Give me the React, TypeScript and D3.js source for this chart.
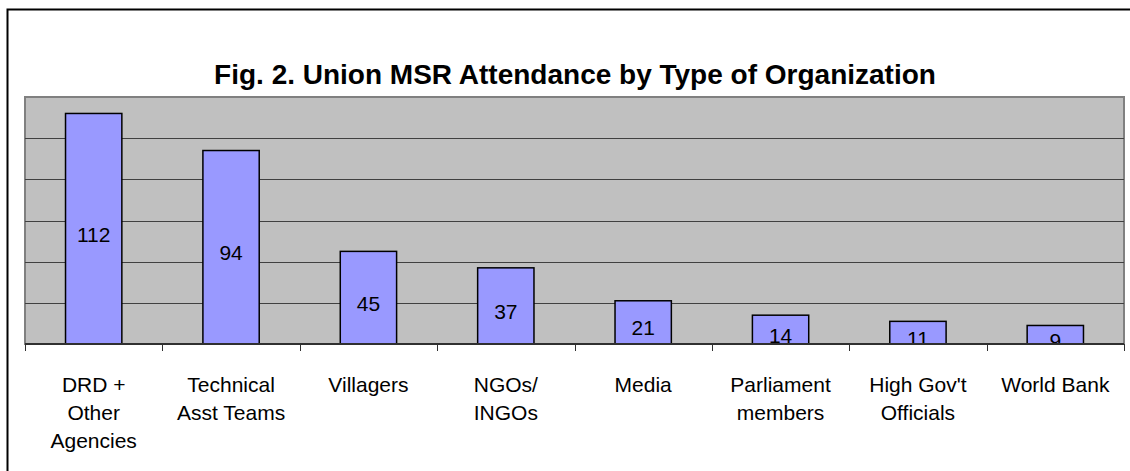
import React from "react"
import * as d3 from "d3"

// ── Data ──────────────────────────────────────────────────────────────────────

const categories = [
  "DRD + Other Agencies",
  "Technical Asst Teams",
  "Villagers",
  "NGOs/ INGOs",
  "Media",
  "Parliament members",
  "High Gov't Officials",
  "World Bank",
]
const labelLines = [
  ["DRD +", "Other", "Agencies"],
  ["Technical", "Asst Teams"],
  ["Villagers"],
  ["NGOs/", "INGOs"],
  ["Media"],
  ["Parliament", "members"],
  ["High Gov't", "Officials"],
  ["World Bank"],
]
const attendance = [112, 94, 45, 37, 21, 14, 11, 9]
const yTicks = [0, 20, 40, 60, 80, 100, 120]

const W = 1130
const H = 471
const FONT = "'Liberation Sans', Arial, sans-serif"

export default function App() {
  const plot = { left: 25, right: 1124, top: 97, bottom: 344 }

  const x = d3
    .scaleBand()
    .domain(categories)
    .range([plot.left, plot.right])
    .paddingInner(0)
    .paddingOuter(0)
  const y = d3.scaleLinear().domain([0, 120]).range([plot.bottom, plot.top])

  const bw = x.bandwidth() * 0.41

  return (
    <svg
      width={W}
      height={H}
      style={{ position: "absolute", left: 0, top: 0, display: "block" }}
      fontFamily={FONT}
    >
      <defs>
        <clipPath id="plot-clip">
          <rect
            x={plot.left}
            y={plot.top}
            width={plot.right - plot.left}
            height={plot.bottom - plot.top}
          />
        </clipPath>
      </defs>
      <rect width={W} height={H} fill="white" />
      {/* outer frame */}
      <rect x={7.5} y={9.5} width={1130} height={470} fill="none" stroke="black" strokeWidth={2} />

      <text
        x={575}
        y={84}
        textAnchor="middle"
        fontSize={28}
        fontWeight="bold"
        fill="black"
      >
        Fig. 2. Union MSR Attendance by Type of Organization
      </text>

      {/* plot area */}
      <rect
        x={plot.left}
        y={plot.top}
        width={plot.right - plot.left}
        height={plot.bottom - plot.top}
        fill="#C0C0C0"
        stroke="#808080"
        strokeWidth={2}
      />
      {yTicks.slice(1, -1).map(t => (
        <line
          key={t}
          x1={plot.left}
          x2={plot.right}
          y1={Math.round(y(t)) + 0.5}
          y2={Math.round(y(t)) + 0.5}
          stroke="#404040"
          strokeWidth={1}
        />
      ))}

      {/* bars */}
      {categories.map((c, i) => {
        const cx = x(c)! + x.bandwidth() / 2
        const top = y(attendance[i])
        return (
          <rect
            key={c}
            x={cx - bw / 2}
            y={top}
            width={bw}
            height={plot.bottom - top}
            fill="#9999FF"
            stroke="black"
            strokeWidth={1.5}
          />
        )
      })}

      {/* value labels */}
      <g clipPath="url(#plot-clip)">
        {categories.map((c, i) => {
          const cx = x(c)! + x.bandwidth() / 2
          const mid = (y(attendance[i]) + plot.bottom) / 2
          return (
            <text
              key={c}
              x={cx}
              y={mid + 13}
              textAnchor="middle"
              fontSize={21}
              fill="black"
            >
              {attendance[i]}
            </text>
          )
        })}
      </g>

      {/* x axis */}
      <line x1={plot.left} x2={plot.right} y1={plot.bottom} y2={plot.bottom} stroke="#303030" strokeWidth={2} />
      {d3.range(categories.length + 1).map(i => {
        const tx = Math.round(plot.left + i * x.step()) + 0.5
        return (
          <line key={i} x1={tx} x2={tx} y1={plot.bottom} y2={plot.bottom + 7} stroke="#303030" strokeWidth={1} />
        )
      })}

      {/* category labels */}
      {categories.map((c, i) => {
        const cx = x(c)! + x.bandwidth() / 2
        return (
          <text key={c} textAnchor="middle" fontSize={21} fill="black">
            {labelLines[i].map((ln, j) => (
              <tspan key={j} x={cx} y={392 + j * 28}>
                {ln}
              </tspan>
            ))}
          </text>
        )
      })}
    </svg>
  )
}
